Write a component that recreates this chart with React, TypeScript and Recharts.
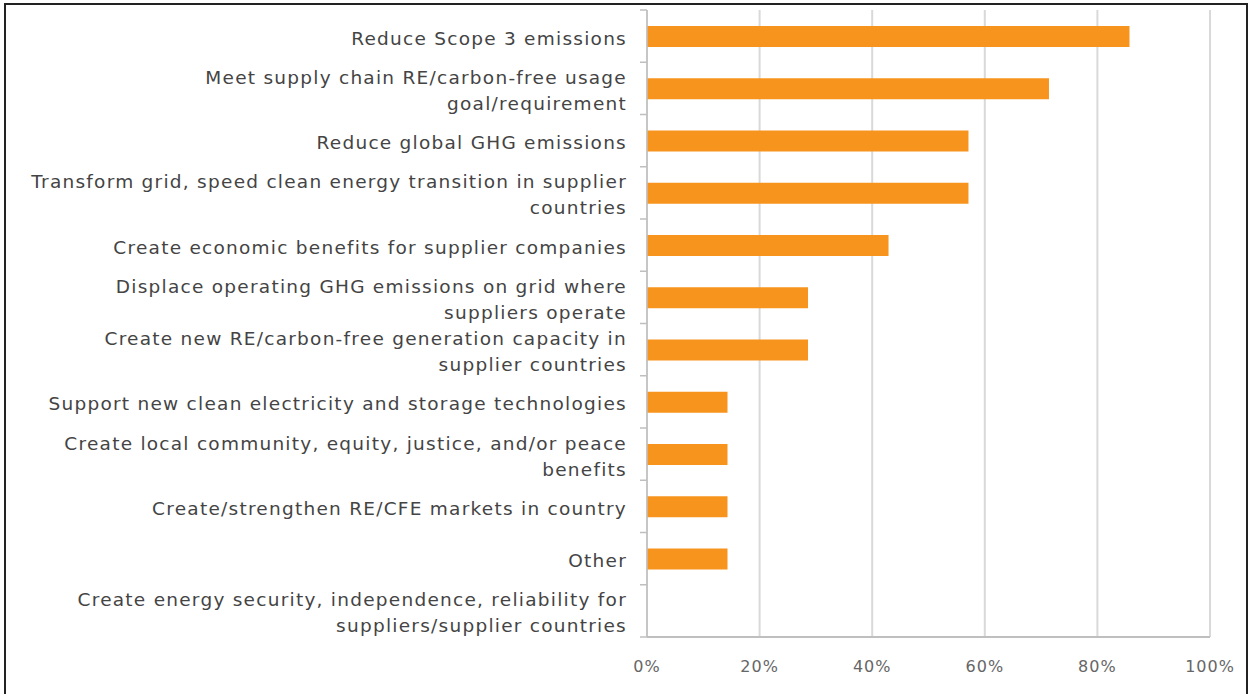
import { BarChart, Bar, XAxis, YAxis, CartesianGrid } from "recharts";

const categories = [
  "Reduce Scope 3 emissions",
  "Meet supply chain RE/carbon-free usage\ngoal/requirement",
  "Reduce global GHG emissions",
  "Transform grid, speed clean energy transition in supplier\ncountries",
  "Create economic benefits for supplier companies",
  "Displace operating GHG emissions on grid where\nsuppliers operate",
  "Create new RE/carbon-free generation capacity in\nsupplier countries",
  "Support new clean electricity and storage technologies",
  "Create local community, equity, justice, and/or peace\nbenefits",
  "Create/strengthen RE/CFE markets in country",
  "Other",
  "Create energy security, independence, reliability for\nsuppliers/supplier countries",
];

const shares = [85.7, 71.4, 57.1, 57.1, 42.9, 28.6, 28.6, 14.3, 14.3, 14.3, 14.3, 0];

const xTicks = [0, 20, 40, 60, 80, 100];

const data = categories.map((name, i) => ({ name, value: shares[i] }));

const CHART_W = 1240;
const CHART_H = 688;
const MARGIN = { top: 5, right: 36, bottom: 16, left: 0 };
const X_AXIS_H = 40;
const PLOT_H = CHART_H - MARGIN.top - MARGIN.bottom - X_AXIS_H;
const HALF_BAND = PLOT_H / categories.length / 2;

const FONT = "'DejaVu Sans', sans-serif";

function CategoryTick(props: any) {
  const { x, y, payload, index } = props;
  const lines: string[] = String(payload.value).split("\n");
  const lineH = 26;
  const startY = y + 1.5 - ((lines.length - 1) * lineH) / 2;
  const last = index === categories.length - 1;
  return (
    <g>
      <line x1={x - 7} x2={x} y1={y - HALF_BAND} y2={y - HALF_BAND} stroke="#bfbfbf" strokeWidth={1.5} />
      {last && (
        <line x1={x - 7} x2={x} y1={y + HALF_BAND} y2={y + HALF_BAND} stroke="#bfbfbf" strokeWidth={1.5} />
      )}
      <text
        x={x - 20}
        y={startY}
        textAnchor="end"
        dominantBaseline="central"
        fill="#444"
        fontSize={18.5}
        letterSpacing={1.25}
        fontFamily={FONT}
      >
        {lines.map((l, i) => (
          <tspan key={i} x={x - 20} dy={i === 0 ? 0 : lineH}>
            {l}
          </tspan>
        ))}
      </text>
    </g>
  );
}

export default function App() {
  return (
    <div
      style={{
        position: "absolute",
        left: 4,
        top: 3,
        width: CHART_W,
        height: 700,
        border: "2px solid #222",
        background: "#fff",
        overflow: "hidden",
      }}
    >
      <BarChart width={CHART_W} height={CHART_H} data={data} layout="vertical" margin={MARGIN}>
        <CartesianGrid horizontal={false} stroke="#d9d9d9" strokeWidth={2} />
        <XAxis
          type="number"
          domain={[0, 100]}
          ticks={xTicks}
          tickFormatter={(v) => `${v}%`}
          height={X_AXIS_H}
          axisLine={{ stroke: "#bfbfbf", strokeWidth: 2 }}
          tickLine={false}
          tickSize={0}
          tickMargin={0}
          tick={{ fill: "#666", fontSize: 16, fontFamily: FONT, letterSpacing: 1, dy: 24 }}
        />
        <YAxis
          type="category"
          dataKey="name"
          width={641}
          interval={0}
          axisLine={{ stroke: "#bfbfbf", strokeWidth: 1.5 }}
          tickLine={false}
          tickSize={0}
          tickMargin={0}
          tick={<CategoryTick />}
        />
        <Bar dataKey="value" fill="#F7941D" barSize={21} isAnimationActive={false} />
      </BarChart>
    </div>
  );
}
